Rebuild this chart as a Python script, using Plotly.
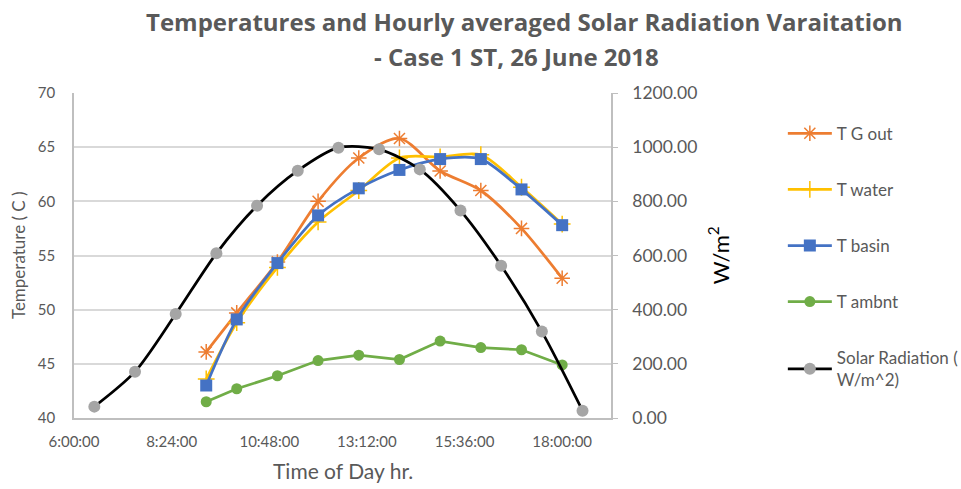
import plotly.graph_objects as go

day = "2018-06-26 "
solar_times = ["06:30", "07:30", "08:30", "09:30", "10:30", "11:30", "12:30",
               "13:30", "14:30", "15:30", "16:30", "17:30", "18:30"]
solar_rad = [42, 171, 384, 608, 784, 913, 998, 992, 918, 766, 562, 319, 27]

temp_times = ["09:15", "10:00", "11:00", "12:00", "13:00", "14:00", "15:00",
              "16:00", "17:00", "18:00"]
t_g_out = [46.1, 49.7, 54.4, 60.0, 64.0, 65.8, 62.8, 61.0, 57.5, 52.9]
t_water = [43.6, 48.8, 53.9, 58.1, 61.0, 64.0, 64.1, 64.3, 61.3, 57.9]
t_basin = [43.0, 49.1, 54.3, 58.7, 61.2, 62.9, 63.9, 63.9, 61.1, 57.8]
t_ambnt = [41.5, 42.7, 43.9, 45.3, 45.8, 45.4, 47.1, 46.5, 46.3, 44.9]

sx = [day + t for t in solar_times]
tx = [day + t for t in temp_times]

FONT = "Lato"
TFONT = "Open Sans"
GRAY = "#595959"
LW = 2.75

fig = go.Figure()
fig.add_trace(go.Scatter(x=tx, y=t_g_out, name="T G out", mode="lines+markers",
                         line=dict(color="#ED7D31", width=LW, shape="spline", smoothing=0.8),
                         marker=dict(symbol="asterisk-open", size=13, color="#ED7D31",
                                     line=dict(color="#ED7D31", width=1.5)),
                         legendgroup="a"))
fig.add_trace(go.Scatter(x=tx, y=t_water, name="T water", mode="lines+markers",
                         line=dict(color="#FFC000", width=LW, shape="spline", smoothing=0.8),
                         marker=dict(symbol="cross-thin-open", size=12, color="#FFC000",
                                     line=dict(color="#FFC000", width=1.5)),
                         legendgroup="b"))
fig.add_trace(go.Scatter(x=tx, y=t_basin, name="T basin", mode="lines+markers",
                         line=dict(color="#4472C4", width=LW, shape="spline", smoothing=0.8),
                         marker=dict(symbol="square", size=12, color="#4472C4"),
                         legendgroup="c"))
fig.add_trace(go.Scatter(x=tx, y=t_ambnt, name="T ambnt", mode="lines+markers",
                         line=dict(color="#70AD47", width=LW),
                         marker=dict(symbol="circle", size=11, color="#70AD47"),
                         legendgroup="d"))
fig.add_trace(go.Scatter(x=sx, y=solar_rad, name="Solar Radiation (<br>W/m^2)", mode="lines+markers",
                         line=dict(color="black", width=LW, shape="spline", smoothing=0.8),
                         marker=dict(symbol="circle", size=12, color="#A5A5A5"),
                         yaxis="y2", legendgroup="e"))

fig.update_layout(
    width=976, height=489,
    margin=dict(l=74, r=360, t=93, b=71),
    paper_bgcolor="white", plot_bgcolor="white",
    font=dict(family=FONT, color=GRAY, size=15),
    xaxis=dict(type="date", range=[day + "06:00", day + "19:12"],
               tick0=day + "06:00", dtick=2.4 * 3600 * 1000, tickformat="%-H:%M:%S",
               showgrid=False, showline=True, linecolor="#BFBFBF", linewidth=1.5,
               ticks="", zeroline=False, ticklabelstandoff=9,
               tickfont=dict(size=15, color=GRAY)),
    yaxis=dict(range=[40, 70], dtick=5, showgrid=True, gridcolor="#D9D9D9", gridwidth=1.5,
               showline=True, linecolor="#BFBFBF", linewidth=1.5, ticks="", zeroline=False,
               ticklabelstandoff=14, tickfont=dict(size=15, color=GRAY)),
    yaxis2=dict(range=[0, 1200], dtick=200, overlaying="y", side="right", tickformat=".2f",
                showgrid=False, showline=True, linecolor="#BFBFBF", linewidth=1.5,
                ticks="outside", ticklen=5, tickcolor="#BFBFBF", zeroline=False,
                ticklabelstandoff=11, tickfont=dict(size=17.5, color=GRAY)),
    legend=dict(x=1.32, xanchor="left", y=0.93, yanchor="top", tracegroupgap=31,
                font=dict(size=17, color=GRAY), itemwidth=44, bgcolor="rgba(0,0,0,0)"),
    annotations=[
        dict(text="<b>Temperatures and Hourly averaged Solar Radiation Varaitation</b>",
             xref="paper", yref="paper", x=0.8386, y=1.2185, showarrow=False,
             font=dict(family=TFONT, size=24, color=GRAY), xanchor="center", yanchor="middle"),
        dict(text="<b>- Case 1 ST, 26 June 2018</b>",
             xref="paper", yref="paper", x=0.8236, y=1.1108, showarrow=False,
             font=dict(family=TFONT, size=24, color=GRAY), xanchor="center", yanchor="middle"),
        dict(text="Temperature ( C )", xref="paper", yref="paper", x=-0.1032, y=0.5,
             textangle=-90, showarrow=False, font=dict(size=17, color=GRAY),
             xanchor="center", yanchor="middle"),
        dict(text="W/m<sup>2</sup>", xref="paper", yref="paper", x=1.2008, y=0.5,
             textangle=-90, showarrow=False, font=dict(size=22, color="black"),
             xanchor="center", yanchor="middle"),
        dict(text="Time of Day hr.", xref="paper", yref="paper", x=0.5, y=-0.16,
             showarrow=False, font=dict(size=21, color=GRAY),
             xanchor="center", yanchor="middle"),
    ],
)

fig.write_html("out.html", config={"displayModeBar": False},
               post_script="document.body.style.margin='0';document.body.style.overflow='hidden';")
